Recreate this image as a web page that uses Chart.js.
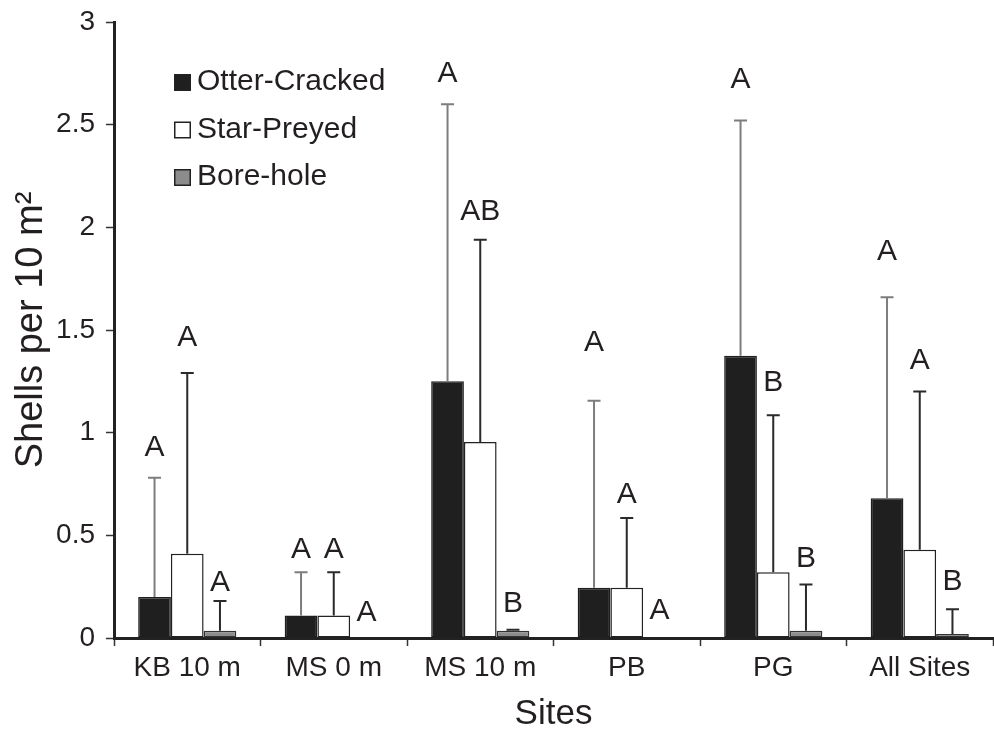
<!DOCTYPE html>
<html><head><meta charset="utf-8">
<script src="https://cdn.jsdelivr.net/npm/chart.js@4.4.0/dist/chart.umd.min.js"></script>
<style>html,body{margin:0;padding:0;background:#fff}canvas{display:block}</style>
</head><body>
<canvas id="c" width="994" height="735"></canvas>
<script>
const sites = ["KB 10 m", "MS 0 m", "MS 10 m", "PB", "PG", "All Sites"];
const seriesNames = ["Otter-Cracked", "Star-Preyed", "Bore-hole"];
const otterMean = [0.20, 0.11, 1.25, 0.245, 1.375, 0.68];
const otterSD   = [0.58, 0.21, 1.35, 0.91, 1.145, 0.98];
const starMean  = [0.41, 0.11, 0.955, 0.245, 0.32, 0.43];
const starSD    = [0.88, 0.21, 0.985, 0.34, 0.765, 0.77];
const boreMean  = [0.035, 0, 0.035, 0, 0.035, 0.02];
const boreSD    = [0.145, 0, 0.005, 0, 0.225, 0.12];
const otterLetters = ["A", "A", "A", "A", "A", "A"];
const starLetters  = ["A", "A", "AB", "A", "B", "A"];
const boreLetters  = ["A", "A", "B", "A", "B", "B"];
const otterLetterY = [0.94, 0.443, 2.762, 1.452, 2.733, 1.895];
const starLetterY  = [1.476, 0.443, 2.087, 0.711, 1.257, 1.366];
const boreLetterY  = [0.283, 0.136, 0.178, 0.146, 0.40, 0.287];
const yTicks = [0, 0.5, 1, 1.5, 2, 2.5, 3];

const FONT = '"Liberation Sans", Arial, Helvetica, sans-serif';
const INK = '#231f20';

const errPlugin = {
  id: 'errLetters',
  afterDatasetsDraw(chart) {
    const ctx = chart.ctx, ys = chart.scales.y;
    chart.data.datasets.forEach((ds, di) => {
      const meta = chart.getDatasetMeta(di);
      meta.data.forEach((bar, i) => {
        const m = ds.data[i], e = ds.sd[i];
        const x = bar.x;
        if (e > 0) {
          const y0 = ys.getPixelForValue(m), y1 = ys.getPixelForValue(m + e);
          ctx.save();
          ctx.strokeStyle = ds.errColor; ctx.lineWidth = 2;
          ctx.beginPath();
          ctx.moveTo(x, y0); ctx.lineTo(x, y1);
          ctx.moveTo(x - 6.5, y1); ctx.lineTo(x + 6.5, y1);
          ctx.stroke();
          ctx.restore();
        }
        ctx.save();
        ctx.fillStyle = INK;
        ctx.font = '30px ' + FONT;
        ctx.textAlign = 'center';
        ctx.textBaseline = 'alphabetic';
        ctx.fillText(ds.letters[i], x, ys.getPixelForValue(ds.letterY[i]) + 11);
        ctx.restore();
      });
    });
  }
};

const legendPlugin = {
  id: 'insideLegend',
  afterDraw(chart) {
    const ctx = chart.ctx, a = chart.chartArea;
    chart.data.datasets.forEach((ds, i) => {
      const bx = a.left + 60, base = a.top + 68 + i * 47.5;
      ctx.save();
      ctx.fillStyle = ds.backgroundColor;
      ctx.fillRect(bx, base - 16, 17, 17);
      ctx.strokeStyle = '#222'; ctx.lineWidth = 1.5;
      ctx.strokeRect(bx + 0.75, base - 15.25, 15.5, 15.5);
      ctx.fillStyle = INK;
      ctx.font = '30px ' + FONT;
      ctx.textAlign = 'left';
      ctx.textBaseline = 'alphabetic';
      ctx.fillText(ds.label, bx + 23, base);
      ctx.restore();
    });
  }
};

new Chart(document.getElementById('c'), {
  type: 'bar',
  data: {
    labels: sites,
    datasets: [
      { label: seriesNames[0], data: otterMean, sd: otterSD, letters: otterLetters, letterY: otterLetterY,
        backgroundColor: '#1f1f1f', borderColor: '#1f1f1f', borderWidth: 1.5, errColor: '#7d7d7d' },
      { label: seriesNames[1], data: starMean, sd: starSD, letters: starLetters, letterY: starLetterY,
        backgroundColor: '#ffffff', borderColor: '#222', borderWidth: 1.5, errColor: '#2a2a2a' },
      { label: seriesNames[2], data: boreMean, sd: boreSD, letters: boreLetters, letterY: boreLetterY,
        backgroundColor: '#8c8c8c', borderColor: '#333', borderWidth: 1.5, errColor: '#2a2a2a' }
    ]
  },
  options: {
    responsive: false,
    animation: false,
    devicePixelRatio: 1,
    layout: { padding: { top: 22, right: 1, bottom: 0, left: 0 } },
    datasets: { bar: { categoryPercentage: 0.67, barPercentage: 1.0, borderSkipped: false } },
    plugins: { legend: { display: false }, tooltip: { enabled: false } },
    scales: {
      x: {
        grid: { offset: true, drawOnChartArea: false, drawTicks: true, tickLength: 8, tickWidth: 1.5, tickColor: '#333' },
        border: { display: true, width: 3, color: '#222' },
        ticks: { color: INK, font: { family: FONT, size: 28 }, padding: 5, maxRotation: 0, autoSkip: false },
        title: { display: true, text: 'Sites', color: INK, font: { family: FONT, size: 35 }, padding: { top: 0, bottom: 0 } },
        afterFit(s) { s.height = 97; s.paddingLeft = 0; s.paddingRight = 0; }
      },
      y: {
        min: 0, max: 3,
        afterBuildTicks(s) { s.ticks = yTicks.map(v => ({ value: v })); },
        grid: { drawOnChartArea: false, drawTicks: true, tickLength: 8, tickWidth: 1.5, tickColor: '#333' },
        border: { display: true, width: 3, color: '#222' },
        ticks: { color: INK, font: { family: FONT, size: 28 }, padding: 11, callback: v => String(v) },
        title: { display: true, text: 'Shells per 10 m²', color: INK, font: { family: FONT, size: 38 }, padding: { top: 9, bottom: 0 } },
        afterFit(s) { s.width = 114; s.paddingTop = 0; s.paddingBottom = 0; }
      }
    }
  },
  plugins: [errPlugin, legendPlugin]
});
</script>
</body></html>
